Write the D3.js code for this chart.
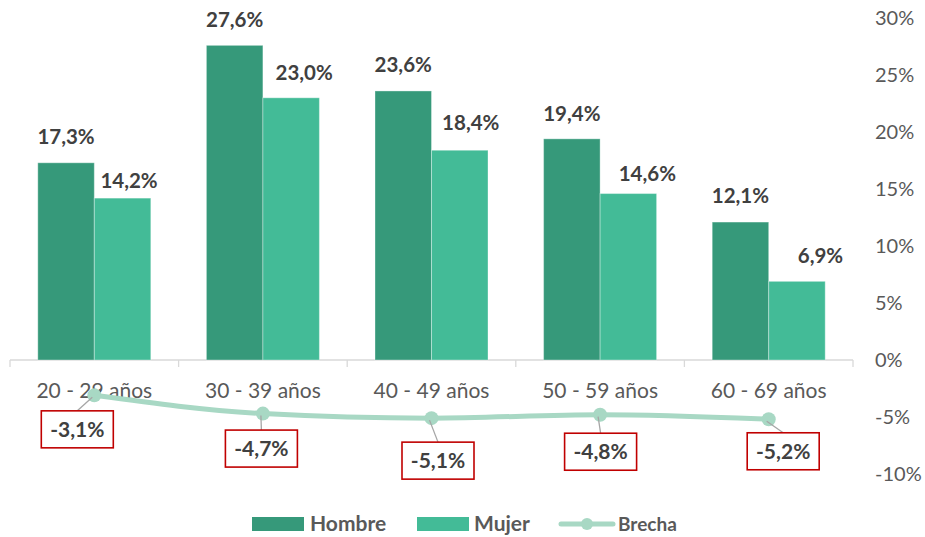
<!DOCTYPE html>
<html><head><meta charset="utf-8">
<script src="https://cdn.jsdelivr.net/npm/d3@7/dist/d3.min.js"></script>
<style>body{margin:0;background:#fff}svg{display:block}text{font-family:Lato,"Open Sans",sans-serif}</style>
</head><body><svg id="c" width="925" height="537"></svg>
<script>
const categories = ["20 - 29 años","30 - 39 años","40 - 49 años","50 - 59 años","60 - 69 años"];
const hombre = [17.3, 27.6, 23.6, 19.4, 12.1];
const mujer = [14.2, 23.0, 18.4, 14.6, 6.9];
const brecha = [-3.1, -4.7, -5.1, -4.8, -5.2];
const yTicks = [30, 25, 20, 15, 10, 5, 0, -5, -10];
const seriesNames = ["Hombre","Mujer","Brecha"];

// layout (label placement, not data)
const brechaLabelOffset = [[-17,34],[-1.5,35],[6.5,42.5],[0.5,37],[14.5,32]];
const barLabelOffset = {
  Hombre: [[0,26],[0,26],[0,26],[0,25],[0,26]],
  Mujer:  [[6.5,17],[13,25],[11,27],[19,20],[23.5,26]]
};

const colors = {Hombre:"#36997a", Mujer:"#43bb97", Brecha:"#a8d8c4"};
const fmt = v => v.toFixed(1).replace(".", ",") + "%";

const svg = d3.select("#c");
const x = d3.scaleBand().domain(categories).range([10, 853]);
const y = d3.scaleLinear().domain([-10, 30]).range([474, 18]);
const inner = d3.scaleBand().domain(["Hombre","Mujer"]).range([0, x.bandwidth()]).paddingOuter(0.492).paddingInner(0);

// x axis line + ticks
const ax = svg.append("g");
ax.append("line").attr("x1", 10).attr("x2", 853).attr("y1", y(0)).attr("y2", y(0)).attr("stroke", "#d9d9d9").attr("stroke-width", 1.3);
const bounds = categories.map(c => x(c)).concat([x(categories[4]) + x.bandwidth()]);
ax.selectAll("line.t").data(bounds).join("line").attr("class","t")
  .attr("x1", d => d).attr("x2", d => d).attr("y1", y(0)).attr("y2", y(0) + 7)
  .attr("stroke", "#d9d9d9").attr("stroke-width", 1.3);

// right axis labels
svg.append("g").selectAll("text").data(yTicks).join("text")
  .attr("x", 875).attr("y", d => y(d)).attr("dy", "0.35em")
  .attr("fill", "#595959").attr("font-size", 20).text(d => d + "%");

// bars
const data = categories.map((c, i) => ({c, i, Hombre: hombre[i], Mujer: mujer[i]}));
const g = svg.append("g");
["Hombre","Mujer"].forEach(s => {
  g.selectAll("rect." + s).data(data).join("rect").attr("class", s)
    .attr("x", d => x(d.c) + inner(s)).attr("width", inner.bandwidth())
    .attr("y", d => y(d[s])).attr("height", d => y(0) - y(d[s]))
    .attr("fill", colors[s]).attr("stroke", "rgba(255,255,255,0.35)").attr("stroke-width", 1);
  g.selectAll("text." + s).data(data).join("text").attr("class", s)
    .attr("x", d => x(d.c) + inner(s) + inner.bandwidth() / 2 + barLabelOffset[s][d.i][0])
    .attr("y", d => y(d[s]) - barLabelOffset[s][d.i][1]).attr("dy", "0.35em")
    .attr("text-anchor", "middle").attr("font-weight", "bold").attr("font-size", 20.5)
    .attr("fill", "#404040").text(d => fmt(d[s]));
});

// category labels
svg.append("g").selectAll("text").data(categories).join("text")
  .attr("x", d => x(d) + x.bandwidth() / 2).attr("y", 391).attr("dy", "0.35em")
  .attr("text-anchor", "middle").attr("fill", "#595959").attr("font-size", 21).text(d => d);

// brecha line
const pts = brecha.map((v, i) => ({v, i, px: x(categories[i]) + x.bandwidth() / 2, py: y(v)}));
svg.append("path").datum(pts)
  .attr("d", d3.line().x(d => d.px).y(d => d.py).curve(d3.curveMonotoneX))
  .attr("fill", "none").attr("stroke", colors.Brecha).attr("stroke-width", 5).attr("stroke-linecap", "round");
svg.append("g").selectAll("circle").data(pts).join("circle")
  .attr("cx", d => d.px).attr("cy", d => d.py).attr("r", 7).attr("fill", colors.Brecha);

// brecha labels
const bw = 72, bh = 37;
const lg = svg.append("g");
pts.forEach(p => {
  const [dx, dy] = brechaLabelOffset[p.i];
  const cx = p.px + dx, cy = p.py + dy;
  lg.append("line").attr("x1", p.px - 2).attr("y1", p.py + 2).attr("x2", cx).attr("y2", cy - bh / 2)
    .attr("stroke", "#a6a6a6").attr("stroke-width", 1.3);
  lg.append("rect").attr("x", cx - bw / 2).attr("y", cy - bh / 2).attr("width", bw).attr("height", bh)
    .attr("fill", "#fff").attr("stroke", "#c00000").attr("stroke-width", 1.6);
  lg.append("text").attr("x", cx).attr("y", cy).attr("dy", "0.36em").attr("text-anchor", "middle")
    .attr("font-weight", "bold").attr("font-size", 21).attr("fill", "#404040").text(fmt(p.v));
});

// legend
const leg = svg.append("g");
const ly = 524;
leg.append("rect").attr("x", 252).attr("y", ly - 7).attr("width", 52).attr("height", 14).attr("fill", colors.Hombre);
leg.append("text").attr("x", 310).attr("y", ly).attr("dy", "0.35em").attr("font-weight", "bold").attr("font-size", 21).attr("fill", "#595959").text(seriesNames[0]);
leg.append("rect").attr("x", 417).attr("y", ly - 7).attr("width", 52).attr("height", 14).attr("fill", colors.Mujer);
leg.append("text").attr("x", 474).attr("y", ly).attr("dy", "0.35em").attr("font-weight", "bold").attr("font-size", 21).attr("fill", "#595959").text(seriesNames[1]);
leg.append("line").attr("x1", 561).attr("x2", 613).attr("y1", ly).attr("y2", ly).attr("stroke", colors.Brecha).attr("stroke-width", 5).attr("stroke-linecap", "round");
leg.append("circle").attr("cx", 587).attr("cy", ly).attr("r", 6).attr("fill", colors.Brecha);
leg.append("text").attr("x", 618).attr("y", ly).attr("dy", "0.35em").attr("font-weight", "bold").attr("font-size", 19).attr("fill", "#595959").text(seriesNames[2]);
</script></body></html>
